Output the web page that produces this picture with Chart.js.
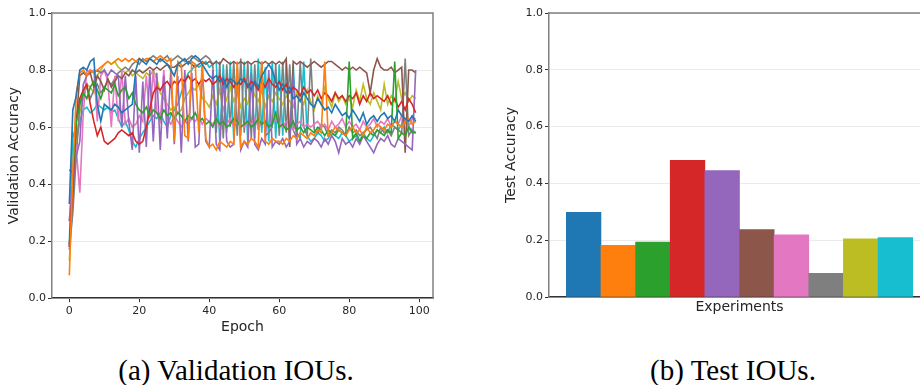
<!DOCTYPE html>
<html>
<head>
<meta charset="utf-8">
<script src="https://cdn.jsdelivr.net/npm/chart.js@4"></script>
<style>
  html, body { margin: 0; padding: 0; background: #fff; overflow: hidden; }
  body { width: 920px; height: 385px; position: relative; }
  #left { position: absolute; left: 0; top: 0; }
  #right { position: absolute; left: 440px; top: 0; }
  .caption {
    position: absolute; top: 353px; width: 400px; height: 34px; line-height: 34px;
    text-align: center; font-family: "Liberation Serif", "DejaVu Serif", serif;
    font-size: 29px; color: #000;
  }
</style>
</head>
<body>
<canvas id="left" width="440" height="350"></canvas>
<canvas id="right" width="500" height="350"></canvas>
<div class="caption" style="left:36px">(a) Validation IOUs.</div>
<div class="caption" style="left:533px">(b) Test IOUs.</div>
<script>
// --- validation accuracy per epoch, one array per experiment ---
const runBlue = [
  0.33,0.66,0.71,0.80,0.81,0.80,0.83,0.84,0.68,0.62,
  0.68,0.67,0.66,0.68,0.67,0.65,0.66,0.67,0.68,0.80,
  0.84,0.83,0.82,0.84,0.83,0.82,0.84,0.83,0.82,0.80,
  0.78,0.82,0.83,0.84,0.82,0.84,0.85,0.84,0.82,0.80,
  0.78,0.77,0.78,0.76,0.77,0.74,0.77,0.76,0.75,0.77,
  0.76,0.75,0.73,0.76,0.74,0.78,0.80,0.82,0.80,0.76,
  0.73,0.75,0.72,0.74,0.70,0.71,0.69,0.72,0.70,0.68,
  0.67,0.70,0.68,0.66,0.67,0.65,0.68,0.66,0.64,0.65,
  0.63,0.66,0.64,0.62,0.65,0.61,0.63,0.64,0.62,0.64,
  0.65,0.63,0.64,0.62,0.66,0.64,0.63,0.62,0.64,0.62
];
const runOrange = [
  0.08,0.45,0.72,0.79,0.80,0.78,0.80,0.79,0.80,0.81,
  0.82,0.83,0.82,0.83,0.84,0.83,0.84,0.83,0.84,0.83,
  0.84,0.83,0.84,0.84,0.83,0.84,0.85,0.84,0.83,0.84,
  0.55,0.83,0.82,0.57,0.56,0.83,0.82,0.58,0.83,0.56,
  0.53,0.54,0.52,0.55,0.54,0.53,0.55,0.54,0.83,0.53,
  0.55,0.54,0.56,0.55,0.53,0.83,0.55,0.54,0.56,0.55,
  0.55,0.54,0.56,0.55,0.57,0.56,0.58,0.57,0.56,0.58,
  0.57,0.59,0.58,0.83,0.57,0.58,0.60,0.59,0.58,0.57,
  0.59,0.60,0.58,0.59,0.57,0.60,0.58,0.59,0.61,0.60,
  0.59,0.61,0.60,0.62,0.61,0.60,0.62,0.63,0.61,0.62
];
const runGreen = [
  0.45,0.44,0.62,0.68,0.72,0.70,0.74,0.76,0.73,0.70,
  0.74,0.73,0.72,0.75,0.71,0.73,0.74,0.70,0.72,0.68,
  0.66,0.65,0.67,0.64,0.66,0.65,0.63,0.66,0.64,0.65,
  0.63,0.65,0.64,0.62,0.64,0.63,0.65,0.62,0.63,0.61,
  0.62,0.60,0.63,0.61,0.62,0.60,0.61,0.63,0.62,0.60,
  0.61,0.62,0.60,0.61,0.63,0.61,0.62,0.60,0.61,0.65,
  0.60,0.61,0.59,0.60,0.62,0.59,0.60,0.58,0.60,0.59,
  0.58,0.60,0.59,0.57,0.59,0.58,0.57,0.59,0.58,0.57,
  0.83,0.56,0.58,0.55,0.57,0.56,0.58,0.57,0.59,0.58,
  0.57,0.59,0.58,0.83,0.56,0.58,0.57,0.60,0.58,0.58
];
const runRed = [
  0.18,0.40,0.62,0.70,0.73,0.75,0.68,0.62,0.57,0.60,
  0.55,0.54,0.55,0.56,0.58,0.59,0.58,0.57,0.58,0.55,
  0.54,0.55,0.60,0.66,0.72,0.74,0.73,0.75,0.76,0.74,
  0.76,0.75,0.77,0.76,0.78,0.76,0.77,0.75,0.77,0.76,
  0.77,0.75,0.76,0.78,0.75,0.77,0.76,0.74,0.76,0.75,
  0.77,0.74,0.76,0.75,0.73,0.76,0.74,0.77,0.75,0.74,
  0.76,0.73,0.75,0.72,0.74,0.73,0.71,0.74,0.72,0.73,
  0.71,0.73,0.70,0.72,0.71,0.69,0.72,0.70,0.71,0.69,
  0.71,0.70,0.72,0.68,0.71,0.69,0.72,0.70,0.71,0.70,
  0.69,0.71,0.68,0.70,0.67,0.69,0.66,0.70,0.68,0.65
];
const runPurple = [
  0.27,0.40,0.50,0.55,0.75,0.78,0.80,0.79,0.80,0.79,
  0.80,0.78,0.80,0.79,0.78,0.60,0.78,0.62,0.52,0.78,
  0.51,0.76,0.53,0.80,0.55,0.79,0.52,0.78,0.56,0.80,
  0.54,0.78,0.51,0.80,0.55,0.79,0.53,0.54,0.81,0.55,
  0.53,0.80,0.54,0.52,0.78,0.55,0.53,0.54,0.80,0.52,
  0.55,0.53,0.79,0.54,0.52,0.56,0.54,0.80,0.53,0.55,
  0.54,0.56,0.53,0.55,0.78,0.54,0.56,0.53,0.55,0.54,
  0.56,0.55,0.53,0.56,0.54,0.57,0.55,0.51,0.56,0.54,
  0.55,0.53,0.56,0.54,0.57,0.55,0.53,0.51,0.54,0.56,
  0.55,0.57,0.54,0.53,0.56,0.55,0.54,0.53,0.52,0.80
];
const runBrown = [
  0.18,0.38,0.62,0.78,0.79,0.78,0.79,0.74,0.78,0.76,
  0.73,0.77,0.74,0.76,0.78,0.77,0.79,0.78,0.80,0.79,
  0.80,0.79,0.80,0.81,0.80,0.81,0.80,0.81,0.82,0.81,
  0.81,0.82,0.81,0.82,0.83,0.82,0.81,0.82,0.83,0.82,
  0.83,0.82,0.83,0.82,0.84,0.83,0.82,0.83,0.82,0.83,
  0.82,0.83,0.82,0.83,0.83,0.82,0.83,0.82,0.83,0.82,
  0.83,0.82,0.84,0.53,0.83,0.82,0.83,0.82,0.81,0.82,
  0.83,0.82,0.81,0.82,0.83,0.83,0.82,0.81,0.80,0.81,
  0.80,0.81,0.80,0.81,0.80,0.79,0.72,0.80,0.84,0.81,
  0.80,0.80,0.81,0.79,0.80,0.81,0.51,0.80,0.80,0.79
];
const runPink = [
  0.27,0.45,0.52,0.37,0.65,0.80,0.79,0.80,0.62,0.78,
  0.80,0.76,0.60,0.78,0.62,0.80,0.61,0.63,0.60,0.61,
  0.64,0.62,0.78,0.63,0.80,0.65,0.62,0.80,0.63,0.61,
  0.64,0.62,0.60,0.62,0.61,0.63,0.62,0.64,0.61,0.63,
  0.62,0.61,0.63,0.60,0.62,0.61,0.63,0.60,0.62,0.61,
  0.60,0.62,0.61,0.63,0.60,0.61,0.62,0.60,0.61,0.63,
  0.61,0.60,0.62,0.61,0.59,0.61,0.62,0.60,0.61,0.60,
  0.61,0.62,0.60,0.61,0.59,0.62,0.60,0.61,0.63,0.60,
  0.62,0.60,0.61,0.59,0.62,0.60,0.61,0.63,0.60,0.62,
  0.61,0.63,0.60,0.62,0.61,0.64,0.62,0.60,0.63,0.63
];
const runGray = [
  0.17,0.30,0.50,0.68,0.72,0.74,0.70,0.73,0.75,0.72,
  0.74,0.76,0.75,0.77,0.79,0.80,0.81,0.80,0.82,0.83,
  0.82,0.84,0.83,0.84,0.85,0.84,0.83,0.84,0.85,0.83,
  0.84,0.85,0.84,0.83,0.84,0.85,0.84,0.83,0.84,0.85,
  0.84,0.82,0.58,0.83,0.56,0.82,0.60,0.83,0.57,0.84,
  0.58,0.83,0.56,0.82,0.59,0.83,0.57,0.58,0.60,0.82,
  0.57,0.83,0.58,0.82,0.59,0.56,0.83,0.60,0.57,0.84,
  0.59,0.58,0.61,0.60,0.57,0.59,0.58,0.60,0.59,0.57,
  0.60,0.58,0.59,0.57,0.58,0.59,0.60,0.58,0.56,0.60,
  0.58,0.59,0.57,0.60,0.59,0.58,0.84,0.57,0.59,0.58
];
const runOlive = [
  0.13,0.35,0.55,0.65,0.70,0.75,0.74,0.72,0.78,0.80,
  0.82,0.83,0.82,0.83,0.81,0.80,0.79,0.80,0.78,0.79,
  0.78,0.77,0.79,0.78,0.80,0.77,0.72,0.70,0.68,0.66,
  0.67,0.65,0.66,0.70,0.72,0.74,0.73,0.75,0.70,0.69,
  0.67,0.71,0.68,0.73,0.66,0.70,0.74,0.69,0.72,0.67,
  0.70,0.68,0.75,0.71,0.69,0.73,0.67,0.71,0.69,0.72,
  0.70,0.68,0.71,0.69,0.67,0.72,0.70,0.68,0.73,0.69,
  0.66,0.71,0.68,0.74,0.70,0.67,0.72,0.69,0.71,0.68,
  0.70,0.67,0.73,0.69,0.75,0.70,0.68,0.72,0.69,0.66,
  0.75,0.68,0.71,0.69,0.76,0.70,0.72,0.69,0.71,0.70
];
const runCyan = [
  0.19,0.58,0.55,0.62,0.66,0.67,0.65,0.66,0.68,0.67,
  0.66,0.67,0.65,0.66,0.63,0.60,0.62,0.59,0.55,0.53,
  0.56,0.58,0.60,0.62,0.64,0.63,0.65,0.62,0.60,0.64,
  0.66,0.68,0.72,0.76,0.79,0.80,0.82,0.81,0.82,0.83,
  0.81,0.82,0.83,0.55,0.82,0.58,0.83,0.56,0.81,0.57,
  0.83,0.55,0.82,0.56,0.84,0.58,0.81,0.55,0.83,0.56,
  0.82,0.57,0.83,0.55,0.82,0.58,0.56,0.83,0.57,0.55,
  0.56,0.58,0.57,0.55,0.56,0.58,0.57,0.56,0.58,0.57,
  0.55,0.56,0.57,0.55,0.58,0.56,0.55,0.57,0.59,0.58,
  0.60,0.58,0.61,0.60,0.59,0.61,0.62,0.60,0.59,0.58
];

// --- test accuracy per experiment ---
const testAccuracy = [0.298, 0.182, 0.193, 0.481, 0.445, 0.237, 0.219, 0.083, 0.205, 0.209];

const colors = ['#1f77b4','#ff7f0e','#2ca02c','#d62728','#9467bd',
                '#8c564b','#e377c2','#7f7f7f','#bcbd22','#17becf'];
const epochTicks = [0, 20, 40, 60, 80, 100];
const accTicks = [0, 0.2, 0.4, 0.6, 0.8, 1.0];

const runs = [runBlue, runOrange, runGreen, runRed, runPurple,
              runBrown, runPink, runGray, runOlive, runCyan];
const epochs = runBlue.map((_, i) => i);

const FONT = "'DejaVu Sans', sans-serif";
const TEXT = '#262626';

// draw top and right spines like matplotlib's box
const frame = {
  id: 'frame',
  afterDraw(chart) {
    const { ctx, chartArea: a } = chart;
    ctx.save();
    ctx.strokeStyle = '#808080';
    ctx.lineWidth = 1.5;
    ctx.beginPath();
    ctx.moveTo(a.left, a.top);
    ctx.lineTo(a.right, a.top);
    ctx.lineTo(a.right, a.bottom);
    ctx.stroke();
    ctx.restore();
  }
};

function yAxis(title, width) {
  return {
    min: 0, max: 1,
    afterBuildTicks: s => { s.ticks = accTicks.map(v => ({ value: v })); },
    afterFit: s => { s.width = width; },
    ticks: { color: TEXT, font: { family: FONT, size: 11 }, padding: 2,
             callback: v => v.toFixed(1) },
    grid: { color: '#ebebeb', lineWidth: 1, tickLength: 4, tickColor: '#333' },
    border: { color: '#808080', width: 1.5 },
    title: { display: true, text: title, color: TEXT,
             font: { family: FONT, size: 14 }, padding: { top: 4, bottom: 4 } }
  };
}

new Chart(document.getElementById('left'), {
  type: 'line',
  data: {
    labels: epochs,
    datasets: runs.map((r, i) => ({
      label: 'Experiment ' + (i + 1),
      data: r,
      borderColor: colors[i],
      borderWidth: 1.6,
      pointRadius: 0,
      tension: 0,
      fill: false
    }))
  },
  options: {
    responsive: false,
    animation: false,
    layout: { padding: { left: 2, top: 13, right: 7, bottom: 10 } },
    plugins: { legend: { display: false }, tooltip: { enabled: false } },
    scales: {
      x: {
        type: 'linear', min: -4.95, max: 103.95,
        afterBuildTicks: s => { s.ticks = epochTicks.map(v => ({ value: v })); },
        ticks: { color: TEXT, font: { family: FONT, size: 11, lineHeight: 1 }, padding: 3, maxRotation: 0 },
        grid: { drawOnChartArea: false, tickLength: 4, tickColor: '#333' },
        border: { color: '#333', width: 1.5 },
        title: { display: true, text: 'Epoch', color: TEXT,
                 font: { family: FONT, size: 14 }, padding: { top: 0, bottom: 4 } }
      },
      y: yAxis('Validation Accuracy', 50)
    }
  },
  plugins: [frame]
});

new Chart(document.getElementById('right'), {
  type: 'bar',
  data: {
    datasets: [{
      label: 'Test Accuracy',
      data: testAccuracy.map((v, i) => ({ x: i, y: v })),
      backgroundColor: colors,
      borderWidth: 0,
      barPercentage: 1,
      categoryPercentage: 1
    }]
  },
  options: {
    responsive: false,
    animation: false,
    layout: { padding: { left: 59, top: 13, right: 10, bottom: 30.6 } },
    plugins: { legend: { display: false }, tooltip: { enabled: false } },
    scales: {
      x: {
        type: 'linear', min: -1, max: 10, offset: false,
        ticks: { display: false },
        grid: { display: false, drawTicks: false },
        border: { color: '#333', width: 1.5 },
        title: { display: true, text: 'Experiments', color: TEXT,
                 font: { family: FONT, size: 14 }, padding: { top: 1.6, bottom: 4 } }
      },
      y: yAxis('Test Accuracy', 50)
    }
  },
  plugins: [frame]
});
</script>
</body>
</html>
